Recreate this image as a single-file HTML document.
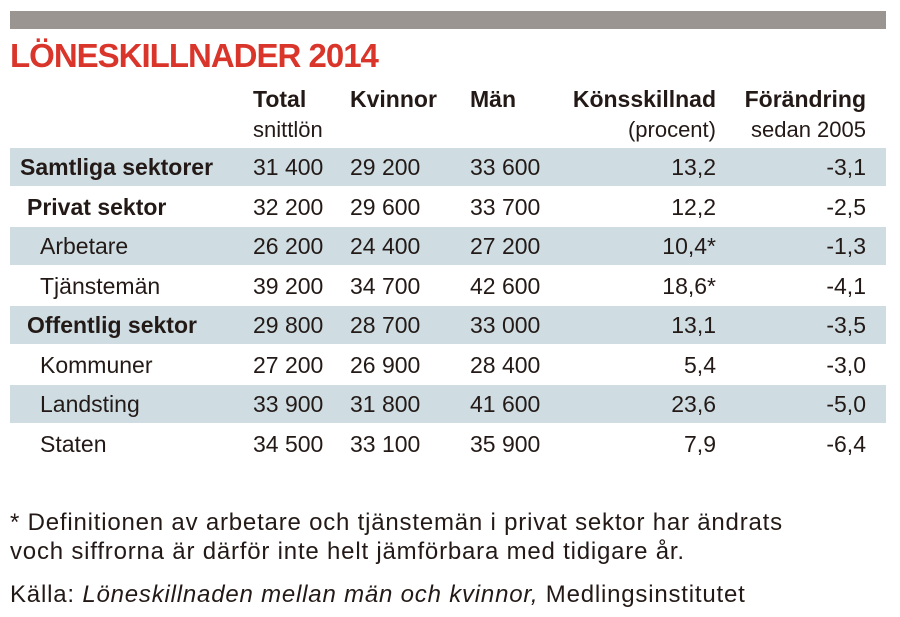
<!DOCTYPE html>
<html><head><meta charset="utf-8"><style>
body{margin:0;width:900px;height:617px;background:#fff;position:relative;font-family:"Liberation Sans",sans-serif;color:#231a17;overflow:hidden}
.a{position:absolute;white-space:nowrap}
.bar{left:10px;top:11px;width:876px;height:18px;background:#9a9591}
.band{left:10px;width:876px;height:38px;background:#cfdde3}
.t{left:10px;top:37px;font-size:33px;font-weight:bold;color:#d9352a;letter-spacing:-1px}
.h{font-size:23px;font-weight:bold}
.s{font-size:22px}
.r{font-size:23px}
.rt{text-align:right}
.f{font-size:24px;letter-spacing:0.8px}
</style></head><body>
<div class="a bar"></div>
<div class="a t">LÖNESKILLNADER 2014</div>
<div class="a h" style="left:253px;top:86px">Total</div>
<div class="a s" style="left:253px;top:117px">snittlön</div>
<div class="a h" style="left:350px;top:86px">Kvinnor</div>
<div class="a h" style="left:470px;top:86px">Män</div>
<div class="a h rt" style="right:184px;top:86px">Könsskillnad</div>
<div class="a s rt" style="right:184px;top:117px">(procent)</div>
<div class="a h rt" style="right:34px;top:86px">Förändring</div>
<div class="a s rt" style="right:34px;top:117px">sedan 2005</div>
<div class="a band" style="top:148px"></div>
<div class="a band" style="top:227px"></div>
<div class="a band" style="top:306px"></div>
<div class="a band" style="top:385px"></div>
<div id="rows"></div>
<script>
var d=[["Samtliga sektorer",20,1,"31 400","29 200","33 600","13,2","-3,1"],
["Privat sektor",27,1,"32 200","29 600","33 700","12,2","-2,5"],
["Arbetare",40,0,"26 200","24 400","27 200","10,4*","-1,3"],
["Tjänstemän",40,0,"39 200","34 700","42 600","18,6*","-4,1"],
["Offentlig sektor",27,1,"29 800","28 700","33 000","13,1","-3,5"],
["Kommuner",40,0,"27 200","26 900","28 400","5,4","-3,0"],
["Landsting",40,0,"33 900","31 800","41 600","23,6","-5,0"],
["Staten",40,0,"34 500","33 100","35 900","7,9","-6,4"]];
var h="";
d.forEach(function(r,i){var y=154+i*39.5;
h+='<div class="a r" style="left:'+r[1]+'px;top:'+y+'px;font-weight:'+(r[2]?'bold':'normal')+'">'+r[0]+'</div>';
h+='<div class="a r" style="left:253px;top:'+y+'px">'+r[3]+'</div>';
h+='<div class="a r" style="left:350px;top:'+y+'px">'+r[4]+'</div>';
h+='<div class="a r" style="left:470px;top:'+y+'px">'+r[5]+'</div>';
h+='<div class="a r rt" style="right:184px;top:'+y+'px">'+r[6]+'</div>';
h+='<div class="a r rt" style="right:34px;top:'+y+'px">'+r[7]+'</div>';});
document.getElementById('rows').innerHTML=h;
</script>
<div class="a f" style="left:10px;top:509px">* Definitionen av arbetare och tjänstemän i privat sektor har ändrats</div>
<div class="a f" style="left:10px;top:538px">voch siffrorna är därför inte helt jämförbara med tidigare år.</div>
<div class="a f" style="left:10px;top:581px">Källa: <i>Löneskillnaden mellan män och kvinnor,</i> Medlingsinstitutet</div>
</body></html>
